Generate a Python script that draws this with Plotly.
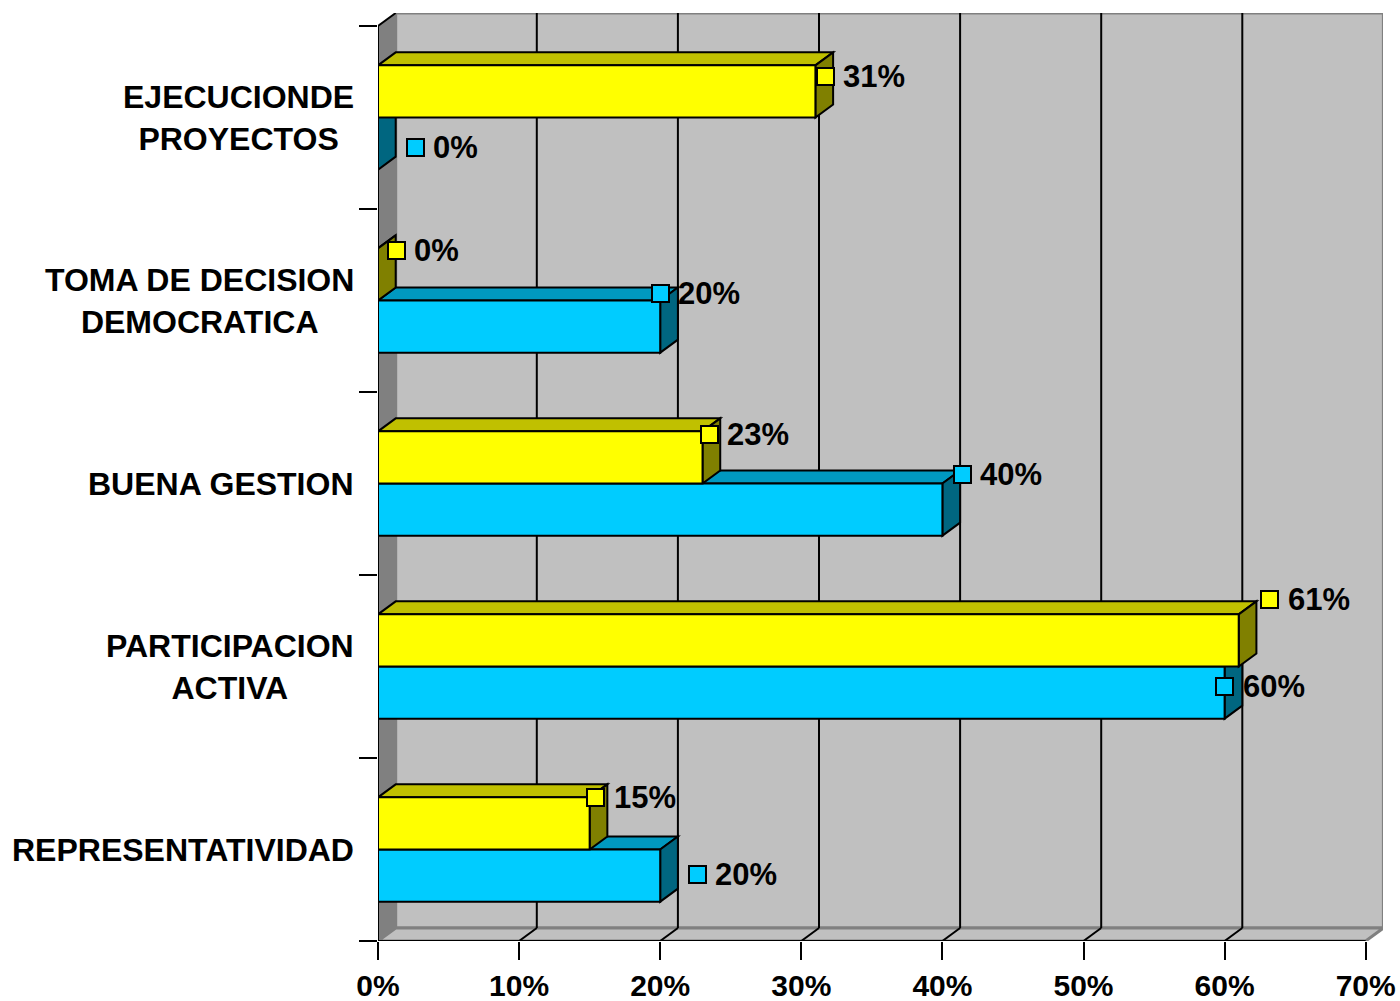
import plotly.graph_objects as go

# ---------------- data ----------------
categories = ["REPRESENTATIVIDAD", "PARTICIPACION<br>ACTIVA", "BUENA GESTION",
              "TOMA DE DECISION<br>DEMOCRATICA", "EJECUCIONDE<br>PROYECTOS"]
serie_amarilla = [0.15, 0.61, 0.23, 0.00, 0.31]
serie_celeste = [0.20, 0.60, 0.40, 0.20, 0.00]
tick_vals = [0.0, 0.1, 0.2, 0.3, 0.4, 0.5, 0.6, 0.7]
tick_text = ["0%", "10%", "20%", "30%", "40%", "50%", "60%", "70%"]

# ---------------- style / layout ----------------
FONT = "Liberation Sans, Arial, sans-serif"
W, H = 1400, 1001
ML, MR, MT, MB = 378, 17, 13, 60
XPX = 1411.0            # px per unit on x
XMAX = (W - ML - MR) / XPX
DX = 17.7 / XPX        # depth offset (x)
YMAX = 5.0711
YPX = (H - MT - MB) / YMAX
DY = 13.0 / YPX        # depth offset (y)
BW = 0.285             # bar thickness

Y_FRONT, Y_TOP, Y_SIDE = "#FFFF00", "#C0C000", "#808000"
B_FRONT, B_TOP, B_SIDE = "#00CCFF", "#0099C0", "#006680"

# label marker offsets in px (right, down) relative to bar front end / top edge
off_amarilla = [(6, 0), (31, -15), (6.5, 3), (18, 2), (10, 11)]
off_celeste = [(37, 24.5), (0, 19.5), (20, -9.5), (0, -7), (37, 29.5)]

n = len(categories)
ypos = [i + 0.5 for i in range(n)]

shapes = []

def poly(pts, fill, line="black", width=2, layer="below"):
    path = "M " + " L ".join(f"{x},{y}" for x, y in pts) + " Z"
    shapes.append(dict(type="path", path=path, xref="x", yref="y",
                       fillcolor=fill, line=dict(color=line, width=width), layer=layer))

def seg(x0, y0, x1, y1, color="black", width=2, layer="below"):
    shapes.append(dict(type="line", x0=x0, y0=y0, x1=x1, y1=y1, xref="x", yref="y",
                       line=dict(color=color, width=width), layer=layer))

# back wall
poly([(DX, DY), (DX + 0.7, DY), (DX + 0.7, 5 + DY), (DX, 5 + DY)], "#C0C0C0", "#808080", 3)
# floor
poly([(0, 0), (0.7, 0), (0.7 + DX, DY), (DX, DY)], "#C0C0C0", "#808080", 3)
# left wall
poly([(0, 0), (DX, DY), (DX, 5 + DY), (0, 5)], "#808080", "#808080", 1)
seg(0, 5, DX, 5 + DY)
# gridlines (back wall + floor)
for v in tick_vals[1:-1]:
    seg(v + DX, DY, v + DX, 5 + DY)
    seg(v, 0, v + DX, DY)
# axis lines
seg(0, 0, 0.7, 0)
seg(0, 0, 0, 5)

# 3D faces of bars
for i in range(n):
    # blue (lower) bar
    v = serie_celeste[i]
    y0, y1 = ypos[i] - BW, ypos[i]
    poly([(0, y1), (v, y1), (v + DX, y1 + DY), (DX, y1 + DY)], B_TOP)
    poly([(v, y0), (v, y1), (v + DX, y1 + DY), (v + DX, y0 + DY)], B_SIDE)
    # yellow (upper) bar
    v = serie_amarilla[i]
    y0, y1 = ypos[i], ypos[i] + BW
    poly([(0, y1), (v, y1), (v + DX, y1 + DY), (DX, y1 + DY)], Y_TOP)
    poly([(v, y0), (v, y1), (v + DX, y1 + DY), (v + DX, y0 + DY)], Y_SIDE)

fig = go.Figure()
fig.add_trace(go.Bar(x=serie_celeste, y=ypos, orientation="h", width=BW, offset=-BW,
                     marker=dict(color=B_FRONT, line=dict(color="black", width=2)),
                     hoverinfo="skip", showlegend=False))
fig.add_trace(go.Bar(x=serie_amarilla, y=ypos, orientation="h", width=BW, offset=0,
                     marker=dict(color=Y_FRONT, line=dict(color="black", width=2)),
                     hoverinfo="skip", showlegend=False))

CAT_FONT = dict(family=FONT, size=32, color="black", weight="bold")
VAL_FONT = dict(family=FONT, size=31, color="black", weight="bold")
TICK_FONT = dict(family=FONT, size=30, color="black", weight="bold")

annotations = []
# category labels
for i, c in enumerate(categories):
    annotations.append(dict(x=0, y=ypos[i], xref="x", yref="y", text=c, showarrow=False,
                            xanchor="right", yanchor="middle", align="center", xshift=-22,
                            font=CAT_FONT))

# data labels
def add_label(v, ytop, off, color):
    ox, oy = off
    annotations.append(dict(x=v, y=ytop, xref="x", yref="y", text="", showarrow=False,
                            width=15, height=15, bgcolor=color, bordercolor="black",
                            borderwidth=2, borderpad=0, xanchor="center", yanchor="middle",
                            xshift=ox, yshift=-oy))
    annotations.append(dict(x=v, y=ytop, xref="x", yref="y", text=f"{round(v*100)}%",
                            showarrow=False, xanchor="left", yanchor="middle",
                            xshift=ox + 16, yshift=-oy, font=VAL_FONT))

for i in range(n):
    add_label(serie_celeste[i], ypos[i], off_celeste[i], B_FRONT)
    add_label(serie_amarilla[i], ypos[i] + BW, off_amarilla[i], Y_FRONT)

fig.update_layout(
    width=W, height=H,
    margin=dict(l=ML, r=MR, t=MT, b=MB, pad=0, autoexpand=False),
    paper_bgcolor="white", plot_bgcolor="white",
    barmode="overlay",
    shapes=shapes, annotations=annotations,
    xaxis=dict(range=[0, XMAX], tickvals=tick_vals, ticktext=tick_text, automargin=False,
               showgrid=False, zeroline=False, showline=False,
               ticks="outside", ticklen=18, tickwidth=2, tickcolor="black",
               tickfont=TICK_FONT, fixedrange=True),
    yaxis=dict(range=[0, YMAX], tickvals=[0, 1, 2, 3, 4, 5], showticklabels=False,
               automargin=False,
               showgrid=False, zeroline=False, showline=False,
               ticks="outside", ticklen=18, tickwidth=2, tickcolor="black", fixedrange=True),
)

fig.write_html("out.html")
